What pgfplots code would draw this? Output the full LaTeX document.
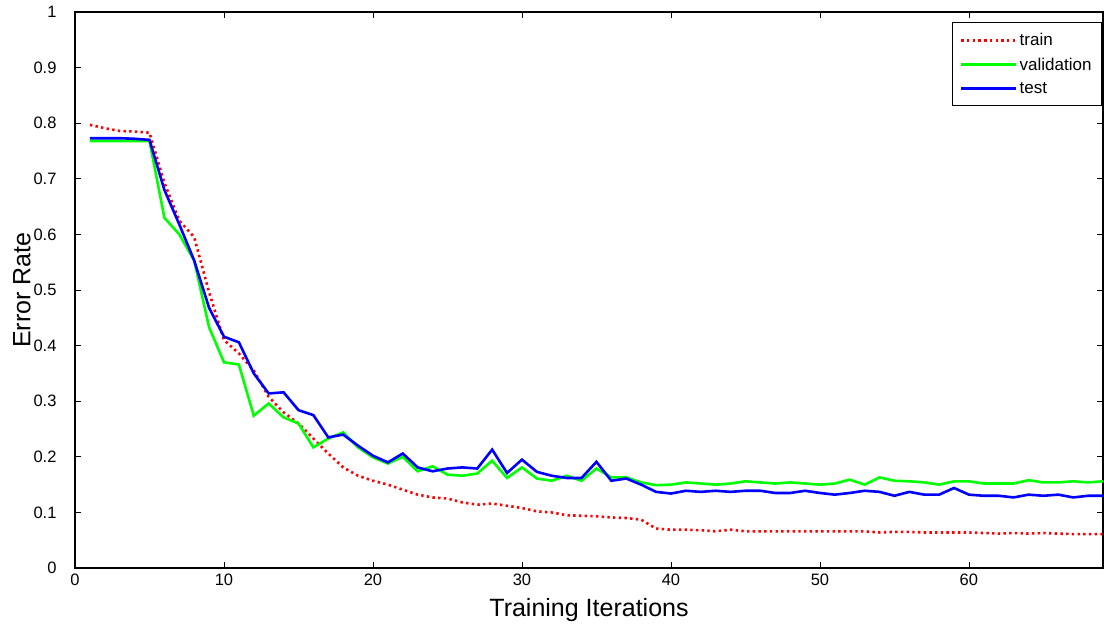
\documentclass[border=0pt]{standalone}
\usepackage{pgfplots}
\pgfplotsset{compat=1.18}
\usepackage{pgfplotstable}
\usepackage{fontspec}
\setmainfont{Liberation Sans}
\pgfplotstableread{
x train valid test
1 0.797 0.768 0.773
2 0.791 0.768 0.773
3 0.786 0.768 0.773
4 0.785 0.768 0.772
5 0.783 0.768 0.770
6 0.693 0.630 0.680
7 0.625 0.600 0.618
8 0.595 0.553 0.553
9 0.496 0.433 0.468
10 0.410 0.370 0.416
11 0.386 0.366 0.406
12 0.355 0.274 0.350
13 0.308 0.296 0.314
14 0.280 0.271 0.316
15 0.260 0.260 0.284
16 0.233 0.217 0.275
17 0.206 0.233 0.235
18 0.181 0.244 0.240
19 0.166 0.217 0.220
20 0.157 0.199 0.202
21 0.150 0.188 0.190
22 0.141 0.200 0.206
23 0.132 0.174 0.181
24 0.127 0.183 0.174
25 0.125 0.168 0.179
26 0.118 0.166 0.181
27 0.114 0.170 0.179
28 0.116 0.193 0.213
29 0.112 0.162 0.171
30 0.108 0.181 0.195
31 0.102 0.161 0.173
32 0.100 0.157 0.166
33 0.095 0.166 0.162
34 0.094 0.157 0.162
35 0.093 0.179 0.191
36 0.091 0.163 0.157
37 0.090 0.163 0.161
38 0.087 0.154 0.150
39 0.071 0.149 0.137
40 0.069 0.150 0.134
41 0.069 0.154 0.139
42 0.068 0.152 0.137
43 0.066 0.150 0.139
44 0.069 0.152 0.137
45 0.066 0.156 0.139
46 0.066 0.154 0.139
47 0.066 0.152 0.135
48 0.066 0.154 0.135
49 0.066 0.152 0.139
50 0.066 0.150 0.135
51 0.066 0.152 0.132
52 0.066 0.159 0.135
53 0.066 0.150 0.139
54 0.064 0.163 0.137
55 0.065 0.157 0.130
56 0.065 0.156 0.137
57 0.064 0.154 0.132
58 0.064 0.150 0.132
59 0.064 0.156 0.144
60 0.064 0.156 0.132
61 0.063 0.152 0.130
62 0.062 0.152 0.130
63 0.063 0.152 0.127
64 0.062 0.158 0.132
65 0.063 0.154 0.130
66 0.062 0.154 0.132
67 0.061 0.156 0.127
68 0.061 0.154 0.130
69 0.061 0.156 0.130
}\errdata
\begin{document}
\begin{tikzpicture}
\begin{axis}[
  name=ax,
  scale only axis,
  width=1028pt, height=556pt,
  xmin=0, xmax=69, ymin=0, ymax=1,
  xtick={0,10,20,30,40,50,60},
  ytick={0,0.1,0.2,0.3,0.4,0.5,0.6,0.7,0.8,0.9,1},
  yticklabels={0,0.1,0.2,0.3,0.4,0.5,0.6,0.7,0.8,0.9,1},
  tick align=inside,
  major tick length=6pt,
  tick style={line width=0.8pt, black},
  axis line style={line width=1.2pt},
  /pgf/number format/assume math mode=true,
  tick label style={font=\fontsize{16.5}{18}\selectfont},
  xticklabel style={yshift=-2pt},
  yticklabel style={xshift=-15pt},
  xlabel={Training Iterations},
  ylabel={Error Rate},
  label style={font=\fontsize{25}{28}\selectfont},
  xlabel style={yshift=-6pt},
  ylabel style={at={(axis description cs:0,0.5)}, anchor=center, yshift=53pt},
  legend style={at={(1,1)}, anchor=north east, xshift=-1pt, yshift=-10pt,
    font=\fontsize{17}{19}\selectfont, draw=black, line width=1pt,
    row sep=6.5pt, inner xsep=8pt, inner ysep=9pt},
  legend cell align=left,
  legend image code/.code={\draw[#1] (0pt,0pt) -- (55pt,0pt);},
]
\addplot[red, line width=2.6pt, dash pattern=on 2.4pt off 3.3pt] table[x=x,y=train] {\errdata};
\addlegendentry{train}
\addplot[green, line width=2.6pt] table[x=x,y=valid] {\errdata};
\addlegendentry{validation}
\addplot[blue, line width=2.6pt] table[x=x,y=test] {\errdata};
\addlegendentry{test}
\end{axis}
\pgfresetboundingbox
\path[use as bounding box] ([xshift=-75pt,yshift=-59pt]ax.south west) rectangle ([xshift=1pt,yshift=12pt]ax.north east);
\end{tikzpicture}
\end{document}
